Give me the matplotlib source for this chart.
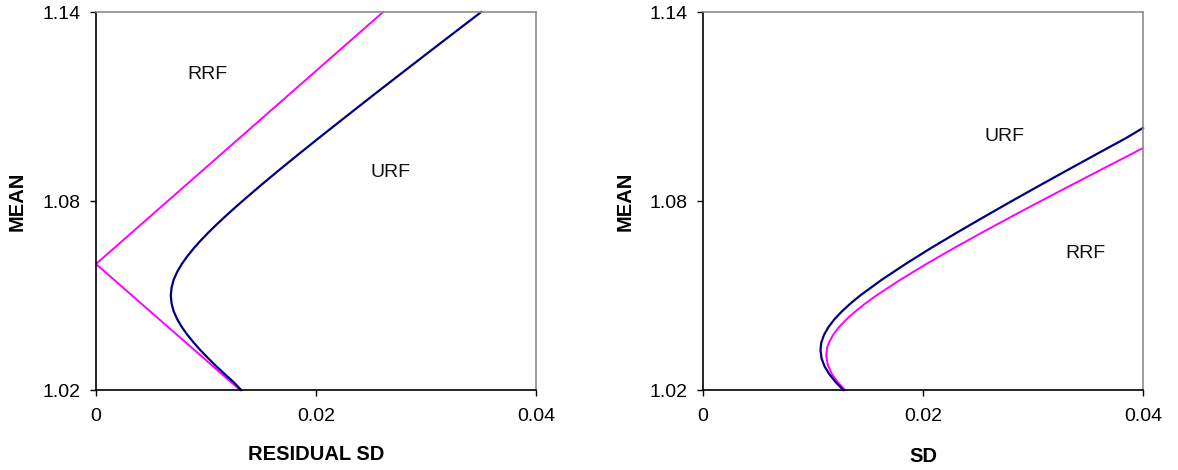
import matplotlib
matplotlib.use("Agg")
import matplotlib.pyplot as plt

plt.rcParams['font.family'] = ['Liberation Sans', 'DejaVu Sans']

# ---- data ----
x_ticks = [0, 0.02, 0.04]
x_tick_labels = ["0", "0.02", "0.04"]
y_ticks = [1.02, 1.08, 1.14]
y_tick_labels = ["1.02", "1.08", "1.14"]

# Left panel: residual SD vs mean
left_rrf_sd = [0.0131, 0.0, 0.0261]
left_rrf_mean = [1.02, 1.06, 1.14]

left_urf_mean = [1.02, 1.0225, 1.025, 1.0275, 1.03, 1.0325, 1.035, 1.0375, 1.04, 1.0425,
                 1.045, 1.0475, 1.05, 1.0525, 1.055, 1.0575, 1.06, 1.0625, 1.065, 1.0675,
                 1.07, 1.0725, 1.075, 1.0775, 1.08, 1.085, 1.09, 1.095, 1.10, 1.105,
                 1.11, 1.115, 1.12, 1.125, 1.13, 1.135, 1.14]
left_urf_sd = [0.0132, 0.01251, 0.01172, 0.01095, 0.01022, 0.00953, 0.00889, 0.00831,
               0.00780, 0.00738, 0.00706, 0.00687, 0.0068, 0.00687, 0.00706, 0.00738,
               0.00780, 0.00831, 0.00889, 0.00953, 0.01022, 0.01095, 0.01172, 0.01251,
               0.01332, 0.01499, 0.01671, 0.01847, 0.02026, 0.02207, 0.02389, 0.02572,
               0.02757, 0.02942, 0.03128, 0.03315, 0.03502]

# Right panel: SD vs mean
right_urf_mean = [1.02, 1.0225, 1.025, 1.0275, 1.03, 1.0327, 1.035, 1.0375, 1.04, 1.0425,
                  1.045, 1.0475, 1.05, 1.055, 1.06, 1.065, 1.07, 1.075, 1.08, 1.085,
                  1.09, 1.095, 1.10, 1.1032]
right_urf_sd = [0.01276, 0.01206, 0.01149, 0.01105, 0.01078, 0.01068, 0.01075, 0.01100,
                0.01141, 0.01196, 0.01264, 0.01342, 0.01429, 0.01625, 0.01841, 0.02070,
                0.02310, 0.02557, 0.02808, 0.03064, 0.03323, 0.03584, 0.03847, 0.04]

right_rrf_mean = [1.02, 1.0225, 1.025, 1.028, 1.031, 1.0335, 1.035, 1.0375, 1.04, 1.0425,
                  1.045, 1.0475, 1.05, 1.055, 1.06, 1.065, 1.07, 1.075, 1.08, 1.085,
                  1.09, 1.093, 1.0968]
right_rrf_sd = [0.01291, 0.01225, 0.01173, 0.01134, 0.0112, 0.01129, 0.01144, 0.01183,
                0.01237, 0.01306, 0.01387, 0.01477, 0.01576, 0.01794, 0.02030, 0.02279,
                0.02537, 0.02802, 0.03072, 0.03346, 0.03622, 0.03789, 0.04]

# annotation labels
left_labels = [("RRF", 0.0101, 1.120), ("URF", 0.0268, 1.0892)]
right_labels = [("URF", 0.0274, 1.1006), ("RRF", 0.0348, 1.0632)]

NAVY = "#000080"
MAGENTA = "#FF00FF"
FS = 14
FS_LAB = 14.5

W, H = 1178, 470
fig = plt.figure(figsize=(W / 100, H / 100), dpi=100)


def make_axes(left_px):
    ax = fig.add_axes([left_px / W, (H - 390) / H, 440 / W, 378 / H])
    ax.set_xlim(0, 0.04)
    ax.set_ylim(1.02, 1.14)
    ax.set_xticks(x_ticks)
    ax.set_xticklabels(x_tick_labels)
    ax.set_yticks(y_ticks)
    ax.set_yticklabels(y_tick_labels)
    for s in ("left", "bottom"):
        ax.spines[s].set_color("black")
        ax.spines[s].set_linewidth(1.2)
    for s in ("top", "right"):
        ax.spines[s].set_color("#8c8c8c")
        ax.spines[s].set_linewidth(1.2)
    ax.tick_params(direction="out", length=4, width=1.0, labelsize=FS, color="black")
    ax.tick_params(axis="x", pad=9)
    ax.tick_params(axis="y", pad=7)
    return ax


ax1 = make_axes(96)
ax1.plot(left_rrf_sd, left_rrf_mean, color=MAGENTA, lw=1.4, clip_on=False)
ax1.plot(left_urf_sd, left_urf_mean, color=NAVY, lw=1.6, clip_on=False,
         solid_joinstyle="round")
for t, x, y in left_labels:
    ax1.text(x, y, t, fontsize=FS, ha="center", va="center", color="#111111")
fig.text(316 / W, 1 - 454 / H, "RESIDUAL SD", fontsize=FS_LAB, fontweight="bold",
         ha="center", va="center")
fig.text(17 / W, 1 - 201 / H, "MEAN", fontsize=FS_LAB, fontweight="bold",
         ha="center", va="center", rotation=90)

ax2 = make_axes(703)
ax2.plot(right_rrf_sd, right_rrf_mean, color=MAGENTA, lw=1.4, clip_on=False,
         solid_joinstyle="round")
ax2.plot(right_urf_sd, right_urf_mean, color=NAVY, lw=1.6, clip_on=False,
         solid_joinstyle="round")
for t, x, y in right_labels:
    ax2.text(x, y, t, fontsize=FS, ha="center", va="center", color="#111111")
fig.text(923 / W, 1 - 457 / H, "SD", fontsize=FS_LAB, fontweight="bold",
         ha="center", va="center")
fig.text(625 / W, 1 - 201 / H, "MEAN", fontsize=FS_LAB, fontweight="bold",
         ha="center", va="center", rotation=90)

fig.savefig("out.png", dpi=100)
